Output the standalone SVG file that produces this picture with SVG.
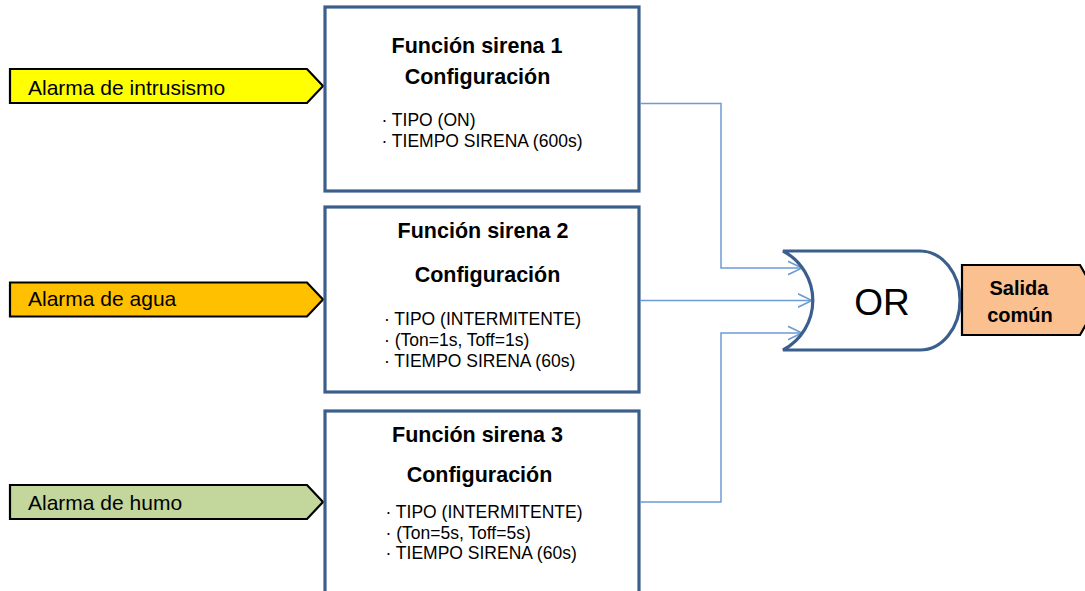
<svg xmlns="http://www.w3.org/2000/svg" width="1085" height="591" viewBox="0 0 1085 591">
<style>
.alarm{stroke:#000;stroke-width:2.2;stroke-linejoin:miter}
.alarm-t{font-family:"Liberation Sans",Arial,sans-serif;font-size:21px;fill:#000}
.box{fill:#fff;stroke:#3b5f8c;stroke-width:3.2}
.title{font-family:"Liberation Sans",Arial,sans-serif;font-size:21.5px;font-weight:bold;fill:#000;text-anchor:middle}
.body{font-family:"Liberation Sans",Arial,sans-serif;font-size:17.5px;fill:#000}
.conn{fill:none;stroke:#6d9bd3;stroke-width:1.5}
.gate{fill:#fff;stroke:#3b5f8c;stroke-width:3.2}
</style>
<defs>
<marker id="arr" viewBox="0 0 16 16" refX="14" refY="8" markerWidth="16" markerHeight="16" markerUnits="userSpaceOnUse" orient="auto">
<path d="M0,1.3 L14,8 L0,14.7" fill="none" stroke="#6d9bd3" stroke-width="1.5"/>
</marker>
</defs>
<g id="alarm1">
<path class="alarm" fill="#ffff00" d="M10,69 L307,69 L323,86 L307,103 L10,103 Z"/>
<text class="alarm-t" x="28" y="95">Alarma de intrusismo</text>
</g>
<g id="alarm2">
<path class="alarm" fill="#ffc000" d="M10,282.5 L307,282.5 L323,299.5 L307,316.5 L10,316.5 Z"/>
<text class="alarm-t" x="28" y="306">Alarma de agua</text>
</g>
<g id="alarm3">
<path class="alarm" fill="#c3d69b" d="M10,485 L307,485 L323,502 L307,519 L10,519 Z"/>
<text class="alarm-t" x="28" y="509.5">Alarma de humo</text>
</g>
<g id="sirena1">
<rect class="box" x="325" y="7" width="314" height="184"/>
<text class="title" x="477" y="53">Función sirena 1</text>
<text class="title" x="477.5" y="84">Configuración</text>
<text class="body" x="381.5" y="125.5">· TIPO (ON)</text>
<text class="body" x="381.5" y="146.5">· TIEMPO SIRENA (600s)</text>
</g>
<g id="sirena2">
<rect class="box" x="325" y="207" width="314" height="185"/>
<text class="title" x="483" y="237.5">Función sirena 2</text>
<text class="title" x="487.5" y="281.5">Configuración</text>
<text class="body" x="384" y="325">· TIPO (INTERMITENTE)</text>
<text class="body" x="384" y="345.5">· (Ton=1s, Toff=1s)</text>
<text class="body" x="384" y="366.5">· TIEMPO SIRENA (60s)</text>
</g>
<g id="sirena3">
<rect class="box" x="325" y="411" width="314" height="200"/>
<text class="title" x="477.5" y="441.5">Función sirena 3</text>
<text class="title" x="479.5" y="481.5">Configuración</text>
<text class="body" x="385.5" y="518">· TIPO (INTERMITENTE)</text>
<text class="body" x="385.5" y="538.5">· (Ton=5s, Toff=5s)</text>
<text class="body" x="385.5" y="558.5">· TIEMPO SIRENA (60s)</text>
</g>
<g id="connectors">
<path class="conn" d="M640,103.5 L721,103.5 L721,268 L802,268" marker-end="url(#arr)"/>
<path class="conn" d="M640,300.5 L812,300.5" marker-end="url(#arr)"/>
<path class="conn" d="M640,502 L721,502 L721,333 L802,333" marker-end="url(#arr)"/>
</g>
<g id="or-gate">
<path class="gate" d="M783,251 L920,251 A40,49.5 0 0 1 920,350 L783,350 A56,56 0 0 0 783,251 Z"/>
<text x="882" y="315" font-family="'Liberation Sans',Arial,sans-serif" font-size="37" text-anchor="middle" fill="#000">OR</text>
</g>
<g id="salida">
<path class="alarm" fill="#fac090" d="M962,265 L1080,265 L1100,300 L1080,335 L962,335 Z"/>
<text x="1019" y="295" font-family="'Liberation Sans',Arial,sans-serif" font-size="20" font-weight="bold" text-anchor="middle" fill="#000">Salida</text>
<text x="1020" y="322" font-family="'Liberation Sans',Arial,sans-serif" font-size="20" font-weight="bold" text-anchor="middle" fill="#000">común</text>
</g>
</svg>
